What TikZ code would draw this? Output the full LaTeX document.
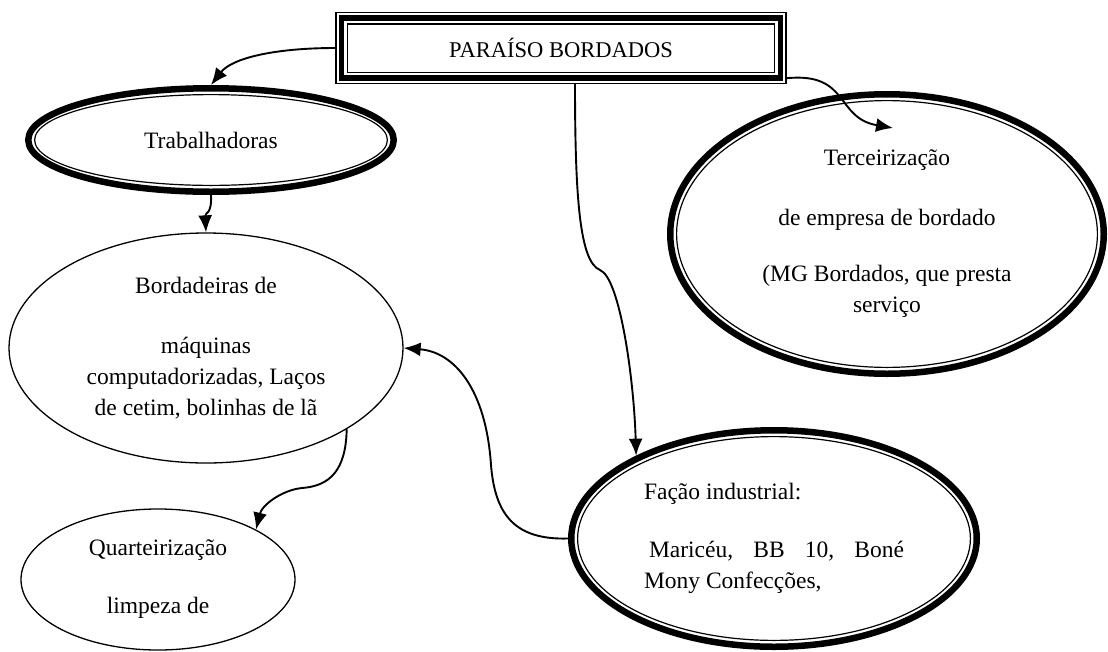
\documentclass[tikz,border=0pt]{standalone}
\usepackage{fontspec}
\setmainfont{Liberation Serif}
\usetikzlibrary{shapes.geometric,arrows.meta}

\tikzstyle{txt} = [font=\fontsize{23.5}{31}\selectfont, inner sep=0pt, align=center]
\tikzstyle{ring} = [txt, ellipse, draw, line width=6.5pt]
\tikzstyle{plain} = [txt, ellipse, draw, line width=1.3pt]
\tikzstyle{inner} = [draw, line width=1.2pt]
\tikzstyle{line} = [draw, -{Latex[length=17pt,width=14pt]}, line width=1.9pt]

\begin{document}
\begin{tikzpicture}[x=1pt, y=-1pt]
	\useasboundingbox (0,0) rectangle (1108,651);

	% Title
	\node[txt, font=\fontsize{22.5}{27}\selectfont, draw, line width=1.4pt, minimum width=450pt, minimum height=71pt] (title) at (561,48) {PARAÍSO BORDADOS};
	\draw[line width=5.5pt] ([shift={(6,6)}]title.north west) rectangle ([shift={(-6,-6)}]title.south east);
	\draw[line width=1.4pt] ([shift={(12,12)}]title.north west) rectangle ([shift={(-12,-12)}]title.south east);

	% Trabalhadoras
	\node[ring, minimum width=365.5pt, minimum height=103.5pt] (trab) at (211,140) {Trabalhadoras};
	\draw[inner] (trab.center) ellipse [x radius=176.4pt, y radius=45.4pt];

	% Bordadeiras
	\node[plain, minimum width=394pt, minimum height=230pt] (bord) at (206,348) {Bordadeiras de\\[29pt] máquinas\\ computadorizadas, Laços\\ de cetim, bolinhas de lã};

	% Quarteirizacao
	\node[plain, minimum width=274pt, minimum height=141pt] (quart) at (158,579.5) {Quarteirização\\[27pt] limpeza de};

	% Terceirizacao
	\node[ring, minimum width=433.5pt, minimum height=279.5pt] (terc) at (887,234) {Terceirização\\[29pt] de empresa de bordado\\[25pt] (MG Bordados, que presta\\ serviço};
	\draw[inner] (terc.center) ellipse [x radius=210.4pt, y radius=133.4pt];

	% Facao
	\node[ring, minimum width=405.5pt, minimum height=216.5pt, text width=260pt, align=flush left] (facao) at (774,538.5) {Fação industrial:\\[27pt] \hspace*{5pt}Maricéu,\hfill BB\hfill 10,\hfill Boné\\ Mony Confecções,};
	\draw[inner] (facao.center) ellipse [x radius=196.4pt, y radius=101.9pt];

	% Connectors
	\path[line] (title.west) .. controls (275,48) and (232,58) .. (trab.north);
	\path[line] ([yshift=6pt]title.south east) .. controls (850,72) and (835,118) .. ([shift={(6,37)}]terc.north);
	\path[line] ([xshift=14pt]title.south) .. controls (575,200) and (580,262) .. (600,270) .. controls (620,278) and (634,380) .. (facao.149);
	\path[line] (trab.south) .. controls (212,215) and (205,212) .. (bord.north);
	\path[line] (facao.west) .. controls (515,540) and (495,515) .. (491,465) .. controls (486,390) and (455,352) .. (bord.east);
	\path[line] (bord.330) .. controls (346,470) and (330,486) .. (302,488) .. controls (282,490) and (262,505) .. (quart.27);

\end{tikzpicture}
\end{document}
